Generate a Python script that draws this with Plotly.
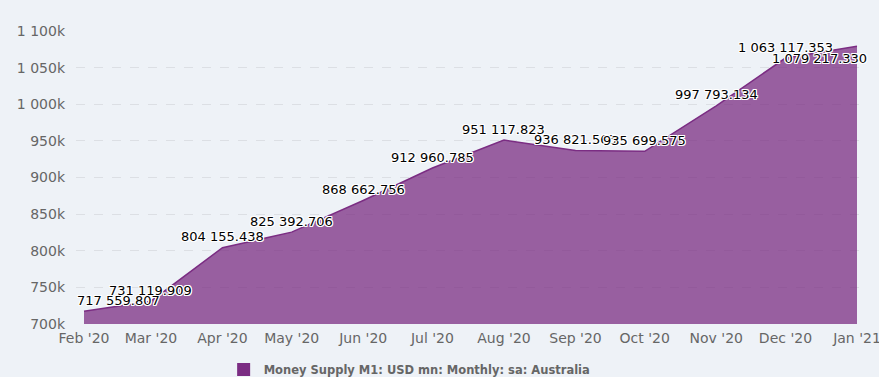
import plotly.graph_objects as go

dates = ["2020-02-01", "2020-03-01", "2020-04-01", "2020-05-01", "2020-06-01", "2020-07-01",
         "2020-08-01", "2020-09-01", "2020-10-01", "2020-11-01", "2020-12-01", "2021-01-01"]
values = [717559.807, 731119.909, 804155.438, 825392.706, 868662.756, 912960.785,
          951117.823, 936821.563, 935699.575, 997793.134, 1063117.353, 1079217.330]
labels = ["717 559.807", "731 119.909", "804 155.438", "825 392.706", "868 662.756", "912 960.785",
          "951 117.823", "936 821.563", "935 699.575", "997 793.134", "1 063 117.353", "1 079 217.330"]
y_ticks = [700000, 750000, 800000, 850000, 900000, 950000, 1000000, 1050000, 1100000]
y_tick_text = ["700k", "750k", "800k", "850k", "900k", "950k", "1 000k", "1 050k", "1 100k"]
series_name = "Money Supply M1: USD mn: Monthly: sa: Australia"

# label placement offsets (px) – style, not data
label_dx = [34, 0, 0, 0, 0, 0, 0, 0, 0, 0, 0, -38]
label_dy = [11, 11, 11, 11, 11, 11, 11, 11, 11, 11, 11, -12]

BG = "#eef2f7"
PURPLE = "#7b2d83"

fig = go.Figure()
fig.add_trace(go.Scatter(
    x=dates, y=values, mode="lines", fill="tozeroy",
    line=dict(color=PURPLE, width=1.5),
    fillcolor="rgba(123,45,131,0.75)",
    showlegend=False, hoverinfo="skip",
))
fig.add_trace(go.Scatter(
    x=[None], y=[None], mode="markers", name=series_name,
    marker=dict(symbol="square", size=13, color=PURPLE),
))

halo = ("-1px -1px 0 #fff, 1px -1px 0 #fff, -1px 1px 0 #fff, 1px 1px 0 #fff, "
        "0 1px 0 #fff, 0 -1px 0 #fff, 1px 0 0 #fff, -1px 0 0 #fff")
for d, v, t, dx, dy in zip(dates, values, labels, label_dx, label_dy):
    fig.add_annotation(
        x=d, y=v, text=t, showarrow=False, xanchor="center", yanchor="middle",
        xshift=dx, yshift=dy,
        font=dict(family="DejaVu Sans", size=13, color="#000000", shadow=halo),
    )

fig.update_layout(
    width=879, height=377,
    margin=dict(l=76, r=16, t=31, b=53, autoexpand=False),
    paper_bgcolor=BG, plot_bgcolor=BG,
    font=dict(family="DejaVu Sans", color="#666666"),
    legend=dict(orientation="h", x=0.1876, xanchor="left", y=-0.155, yanchor="middle",
                font=dict(family="DejaVu Sans", size=11.5, color="#666666", weight="bold"),
                bgcolor="rgba(0,0,0,0)"),
    xaxis=dict(
        type="date", range=["2020-01-28 12:40", "2021-01-03 14:24"],
        dtick="M1", tick0="2020-02-01", tickformat="%b '%y",
        showgrid=False, zeroline=False, showline=False,
        tickfont=dict(size=14, color="#666666"), ticks="", ticklabelstandoff=4,
        ticklabeloverflow="allow",
    ),
    yaxis=dict(
        range=[700000, 1100000], tickvals=y_ticks, ticktext=y_tick_text,
        showgrid=True, gridcolor="#dcdfe4", griddash="dash", gridwidth=1,
        zeroline=False, showline=False,
        tickfont=dict(size=14, color="#666666"), ticks="", ticklabelstandoff=10,
    ),
)

fig.write_html("out.html", config={"displayModeBar": False},
               post_script="document.body.style.margin='0px';document.body.style.overflow='hidden';")
